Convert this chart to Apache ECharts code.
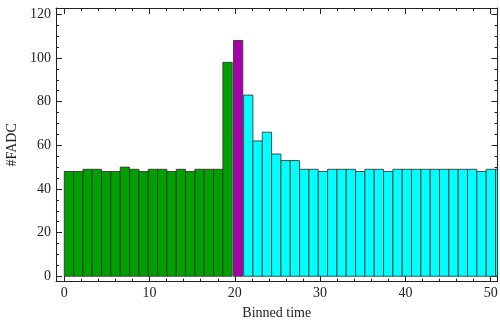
<!DOCTYPE html>
<html>
<head>
<meta charset="utf-8">
<script src="https://cdn.jsdelivr.net/npm/echarts@6/dist/echarts.min.js"></script>
<style>
html,body{margin:0;padding:0;background:#fff;}
#chart{width:500px;height:322px;}
</style>
</head>
<body>
<div id="chart"></div>
<script>
// ---- data ----
const greenValues = [48,48,49,49,48,48,50,49,48,49,49,48,49,48,49,49,49,98];
const purpleValues = [108];
const cyanValues = [83,62,66,56,53,53,49,49,48,49,49,49,48,49,49,48,49,49,49,49,49,49,49,49,49,48,49,49];
const binWidth = 1.094;
const greenStart = 0;
const purpleStart = 19.84;
const cyanStart = 21.03;

const xMajorTicks = [0,10,20,30,40,50];
const xMinorTicks = [2,4,6,8,12,14,16,18,22,24,26,28,32,34,36,38,42,44,46,48];
const yMajorTicks = [0,20,40,60,80,100,120];
const yMinorTicks = [5,10,15,25,30,35,45,50,55,65,70,75,85,90,95,105,110,115];

const X_MIN = -0.97, X_MAX = 50.8;
const Y_MIN = -2.5, Y_MAX = 122.9;

function toBins(values, start){
  return values.map((v,i)=>[start + i*binWidth, start + (i+1)*binWidth, v]);
}

const FONT = 'Liberation Serif';
const FRAME = '#222';

function renderBar(params, api){
  const x0 = api.value(0), x1 = api.value(1), y = api.value(2);
  const p0 = api.coord([x0, 0]);
  const p1 = api.coord([x1, y]);
  const cs = params.coordSys;
  const shape = echarts.graphic.clipRectByRect(
    {x: p0[0], y: p1[1], width: p1[0]-p0[0], height: p0[1]-p1[1]},
    {x: cs.x, y: cs.y, width: cs.width, height: cs.height}
  );
  return shape && {
    type: 'rect',
    shape: shape,
    style: {fill: api.visual('color'), stroke: 'rgba(50,50,50,0.85)', lineWidth: 1}
  };
}

function xAx(pos, ticks, len, labels, line){
  return {
    type: 'value', position: pos, min: X_MIN, max: X_MAX,
    axisLine: {show: line, onZero: false, lineStyle: {color: FRAME, width: 1}},
    axisTick: {show: true, inside: true, length: len, customValues: ticks, lineStyle: {color: FRAME, width: 1}},
    axisLabel: labels ? {show: true, customValues: ticks, fontFamily: FONT, fontSize: 14, color: '#222', margin: 5} : {show: false},
    splitLine: {show: false}
  };
}
function yAx(pos, ticks, len, labels, line){
  return {
    type: 'value', position: pos, min: Y_MIN, max: Y_MAX,
    axisLine: {show: line, onZero: false, lineStyle: {color: FRAME, width: 1}},
    axisTick: {show: true, inside: true, length: len, customValues: ticks, lineStyle: {color: FRAME, width: 1}},
    axisLabel: labels ? {show: true, customValues: ticks, fontFamily: FONT, fontSize: 14, color: '#222', margin: 5} : {show: false},
    splitLine: {show: false}
  };
}

const xb = xAx('bottom', xMajorTicks, 6, true, true);
xb.name = 'Binned time';
xb.nameLocation = 'middle';
xb.nameGap = 25;
xb.nameTextStyle = {fontFamily: FONT, fontSize: 14, color: '#222'};

const yl = yAx('left', yMajorTicks, 6, true, true);
yl.name = '#FADC';
yl.nameLocation = 'middle';
yl.nameGap = 31;
yl.nameRotate = 90;
yl.nameTextStyle = {fontFamily: FONT, fontSize: 14, color: '#222'};

const chart = echarts.init(document.getElementById('chart'), null, {renderer: 'canvas'});
chart.setOption({
  animation: false,
  backgroundColor: '#fff',
  grid: {left: 56, top: 8, width: 441.5, height: 273.7, containLabel: false, outerBoundsMode: 'none'},
  xAxis: [
    xb,
    xAx('bottom', xMinorTicks, 3, false, false),
    xAx('top', xMajorTicks, 6, false, true),
    xAx('top', xMinorTicks, 3, false, false)
  ],
  yAxis: [
    yl,
    yAx('left', yMinorTicks, 3, false, false),
    yAx('right', yMajorTicks, 6, false, true),
    yAx('right', yMinorTicks, 3, false, false)
  ],
  series: [
    {type: 'custom', name: 'green', renderItem: renderBar, data: toBins(greenValues, greenStart), itemStyle: {color: '#00a000'}, encode: {x: [0,1], y: 2}},
    {type: 'custom', name: 'purple', renderItem: renderBar, data: toBins(purpleValues, purpleStart), itemStyle: {color: '#a800a8'}, encode: {x: [0,1], y: 2}},
    {type: 'custom', name: 'cyan', renderItem: renderBar, data: toBins(cyanValues, cyanStart), itemStyle: {color: '#00ffff'}, encode: {x: [0,1], y: 2}}
  ]
});
</script>
</body>
</html>
